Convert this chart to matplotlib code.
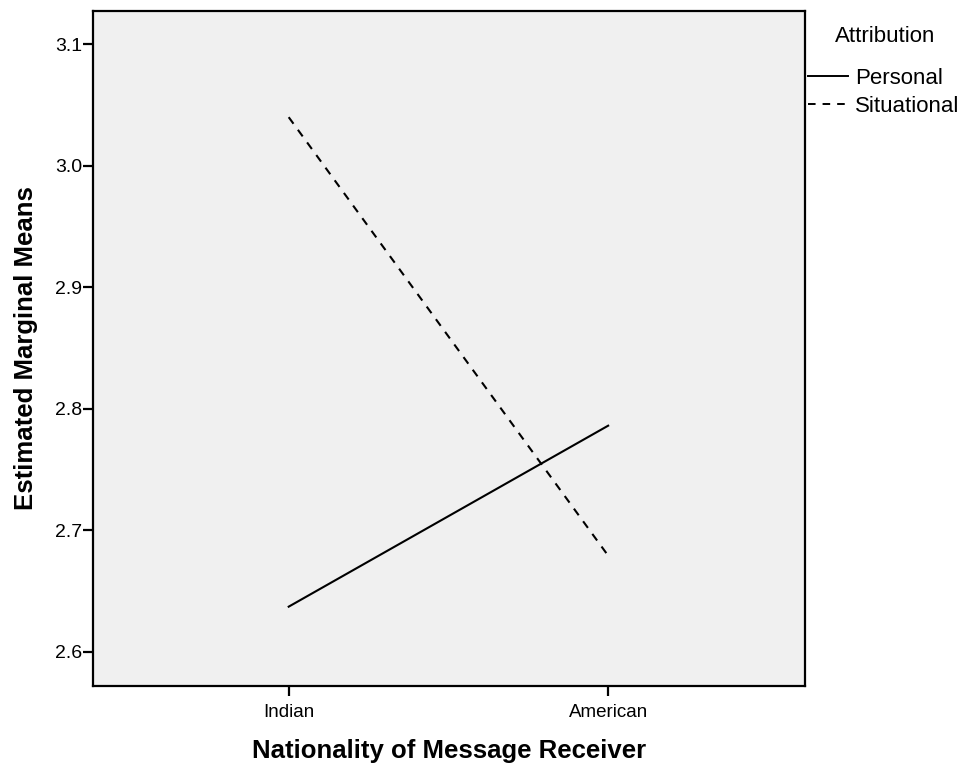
import matplotlib.pyplot as plt
import numpy as np

plt.rcParams['font.family'] = ['Liberation Sans', 'DejaVu Sans']

# Estimated marginal means by receiver nationality and attribution
nationality = ['Indian', 'American']
personal = [2.637, 2.786]
situational = [3.040, 2.679]
yticks = [2.6, 2.7, 2.8, 2.9, 3.0, 3.1]

fig = plt.figure(figsize=(9.64, 7.65), dpi=100)
ax = fig.add_axes([0.0965, 0.1033, 0.7385, 0.8823])
ax.set_facecolor('#f0f0f0')

x = np.arange(len(nationality))
ax.plot(x, personal, color='black', linewidth=1.5, linestyle='-', label='Personal')
ax.plot(x, situational, color='black', linewidth=1.5, linestyle=(0, (3.9, 3.6)), label='Situational')

ax.set_xlim(-0.6125, 1.616)
ax.set_ylim(2.5717, 3.1274)
ax.set_xticks(x)
ax.set_xticklabels(nationality, fontsize=13.5)
ax.set_yticks(yticks)
ax.set_yticklabels([f'{v:.1f}' for v in yticks], fontsize=14)
ax.tick_params(axis='y', direction='out', length=7, width=1.6, color='black', pad=1)
ax.tick_params(axis='x', direction='out', length=7, width=1.6, color='black', pad=6)

for s in ax.spines.values():
    s.set_linewidth(1.6)
    s.set_color('black')

ax.set_xlabel('Nationality of Message Receiver', fontsize=18.5, fontweight='bold', labelpad=13)
ax.set_ylabel('Estimated Marginal Means', fontsize=18.5, fontweight='bold', labelpad=12)

# legend sits just outside the right spine, title drawn separately
leg = ax.legend(loc='upper left', bbox_to_anchor=(808 / 964, 1 - 68 / 765),
                bbox_transform=fig.transFigure,
                frameon=False, fontsize=16, handlelength=1.8, borderpad=0,
                handletextpad=0.3, labelspacing=0.3, borderaxespad=0)
for h in leg.get_lines():
    h.set_linewidth(1.4)
fig.text(885 / 964, 1 - 36 / 765, 'Attribution', fontsize=16, ha='center', va='center')

plt.savefig('out.png', dpi=100)
